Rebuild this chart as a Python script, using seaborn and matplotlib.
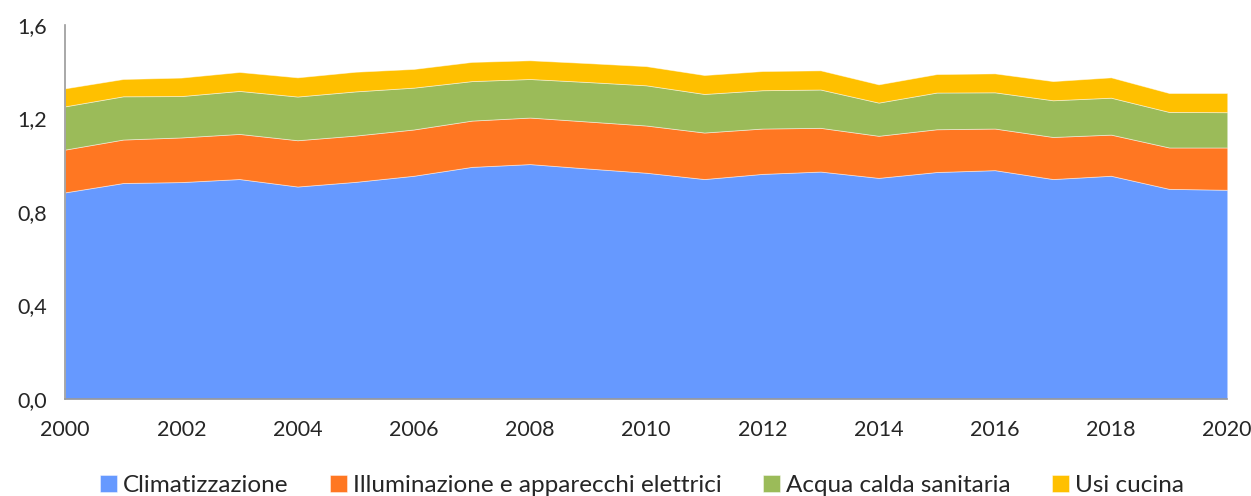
import numpy as np
import seaborn as sns
import matplotlib.pyplot as plt
from matplotlib.ticker import FuncFormatter, MultipleLocator

years = list(range(2000, 2021))

climatizzazione = [0.884, 0.924, 0.928, 0.941, 0.909, 0.929, 0.955, 0.993, 1.005, 0.986,
                   0.968, 0.941, 0.963, 0.973, 0.946, 0.971, 0.979, 0.941, 0.955, 0.899, 0.895]
illuminazione = [0.183, 0.186, 0.191, 0.193, 0.198, 0.198, 0.198, 0.198, 0.199, 0.201,
                 0.202, 0.199, 0.194, 0.187, 0.180, 0.183, 0.178, 0.180, 0.176, 0.177, 0.181]
acqua_calda = [0.185, 0.185, 0.177, 0.184, 0.187, 0.189, 0.179, 0.169, 0.165, 0.169,
               0.172, 0.165, 0.164, 0.164, 0.142, 0.157, 0.155, 0.157, 0.158, 0.152, 0.151]
usi_cucina = [0.077, 0.074, 0.079, 0.081, 0.082, 0.084, 0.080, 0.082, 0.080, 0.081,
              0.082, 0.081, 0.082, 0.082, 0.078, 0.079, 0.081, 0.082, 0.087, 0.081, 0.082]

labels = ["Climatizzazione", "Illuminazione e apparecchi elettrici",
          "Acqua calda sanitaria", "Usi cucina"]
colors = ["#6699FF", "#FF7722", "#9BBB59", "#FFC000"]

sns.set_style("white")
plt.rcParams["font.family"] = ["Lato", "DejaVu Sans"]

fig = plt.figure(figsize=(12.51, 4.96), dpi=100)
ax = fig.add_axes([0.052, 0.1956, 0.929, 0.754])

ax.stackplot(years, climatizzazione, illuminazione, acqua_calda, usi_cucina,
             labels=labels, colors=colors, edgecolor=(1, 1, 1, 0.5), linewidth=0.6)

ax.set_xlim(2000, 2020)
ax.set_ylim(0, 1.6)
ax.xaxis.set_major_locator(MultipleLocator(2))
ax.xaxis.set_minor_locator(MultipleLocator(1))
ax.yaxis.set_major_locator(MultipleLocator(0.4))
ax.yaxis.set_major_formatter(FuncFormatter(lambda v, p: f"{v:.1f}".replace(".", ",")))

sns.despine(ax=ax)
for s in ["left", "bottom"]:
    ax.spines[s].set_color("#9a9a9a")
    ax.spines[s].set_linewidth(1.2)
ax.tick_params(axis="both", which="both", direction="out", color="#9a9a9a",
               labelsize=15.5, width=1.2)
ax.tick_params(axis="x", which="major", length=6, pad=9)
ax.tick_params(axis="x", which="minor", length=6)
ax.tick_params(axis="y", length=7, pad=6)

fig.legend(loc="lower center", ncol=4, frameon=False, fontsize=17.5,
           handlelength=0.7, handleheight=0.7, handletextpad=0.25,
           columnspacing=1.7, bbox_to_anchor=(0.513, -0.045))

fig.savefig("out.png", dpi=100)
